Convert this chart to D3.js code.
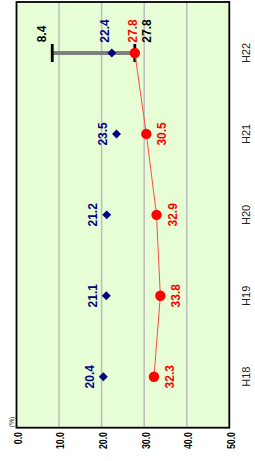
<!DOCTYPE html>
<html>
<head>
	<meta charset="utf-8">
	<title>H18-H22 chart</title>
	<style type="text/css">
	body{
		margin:0;
		background:#fff;
	}
	svg text{
		font-family:"Liberation Sans", Arial, sans-serif;
	}
	</style>
	<script type="text/javascript" src="https://cdn.jsdelivr.net/npm/d3@7"></script>
</head>
<body>
<script type="text/javascript">
	var width = 255;
	var height = 461;

	// data
	var categories = ["H18", "H19", "H20", "H21", "H22"];
	var redValues  = [32.3, 33.8, 32.9, 30.5, 27.8];
	var blueValues = [20.4, 21.1, 21.2, 23.5, 22.4];
	var rangeCategory = "H22";
	var rangeValues = [8.4, 27.8];
	var tickValues = [0, 10, 20, 30, 40, 50];

	var plot = {left:16.5, right:229.3, top:2, bottom:427.7};

	var svg = d3.select("body")
				.append("svg")
				.attr("width", width)
				.attr("height", height);

	// value axis runs horizontally, categories vertically (H22 on top)
	var x = d3.scaleLinear()
			.domain([0, 50])
			.range([plot.left, plot.right]);

	var y = d3.scalePoint()
			.domain(categories.slice().reverse())
			.range([plot.top, plot.bottom])
			.padding(0.63);

	var format = d3.format(".1f");

	// plot background
	svg.append("rect")
		.attr("x", plot.left)
		.attr("y", plot.top)
		.attr("width", plot.right - plot.left)
		.attr("height", plot.bottom - plot.top)
		.style("fill", "#e6fdd6");

	// grid
	svg.append("g")
		.selectAll("line")
		.data(tickValues.slice(1, -1))
		.enter()
		.append("line")
		.attr("x1", function(d){return x(d);})
		.attr("x2", function(d){return x(d);})
		.attr("y1", plot.top)
		.attr("y2", plot.bottom)
		.style("stroke", "#bdbdbd")
		.style("stroke-width", 1.5);

	// border
	svg.append("rect")
		.attr("x", plot.left)
		.attr("y", plot.top)
		.attr("width", plot.right - plot.left)
		.attr("height", plot.bottom - plot.top)
		.style("fill", "none")
		.style("stroke", "#000")
		.style("stroke-width", 1.8);

	// value tick labels (rotated, narrow)
	svg.append("g")
		.selectAll("text")
		.data(tickValues)
		.enter()
		.append("text")
		.attr("transform", function(d){return "translate(" + (x(d) + 1.5) + ",432) rotate(-90) scale(0.8,1)";})
		.attr("text-anchor", "end")
		.attr("dominant-baseline", "central")
		.style("font-size", "11px")
		.style("font-weight", "bold")
		.style("fill", "#000")
		.text(function(d){return format(d);});

	svg.append("text")
		.attr("transform", "translate(11,422) rotate(-90)")
		.attr("text-anchor", "middle")
		.attr("dominant-baseline", "central")
		.style("font-size", "7px")
		.style("fill", "#333")
		.text("(%)");

	// category labels
	svg.append("g")
		.selectAll("text")
		.data(categories)
		.enter()
		.append("text")
		.attr("transform", function(d){return "translate(246," + y(d) + ") rotate(-90)";})
		.attr("text-anchor", "middle")
		.attr("dominant-baseline", "central")
		.style("font-size", "11px")
		.style("fill", "#222")
		.text(function(d){return d;});

	// range bar
	var ry = y(rangeCategory);
	svg.append("line")
		.attr("x1", x(rangeValues[0]))
		.attr("x2", x(rangeValues[1]))
		.attr("y1", ry)
		.attr("y2", ry)
		.style("stroke", "#808080")
		.style("stroke-width", 4);

	svg.append("g")
		.selectAll("line")
		.data(rangeValues)
		.enter()
		.append("line")
		.attr("x1", function(d){return x(d);})
		.attr("x2", function(d){return x(d);})
		.attr("y1", ry - 9)
		.attr("y2", ry + 9)
		.style("stroke", "#000")
		.style("stroke-width", 2.8);

	// red line
	var line = d3.line()
			.x(function(d){return x(d);})
			.y(function(d, i){return y(categories[i]);});

	svg.append("path")
		.datum(redValues)
		.attr("d", line)
		.style("fill", "none")
		.style("stroke", "#ff4a4a")
		.style("stroke-width", 1);

	// blue diamonds
	svg.append("g")
		.selectAll("path")
		.data(blueValues)
		.enter()
		.append("path")
		.attr("d", d3.symbol().type(d3.symbolSquare).size(40))
		.attr("transform", function(d, i){return "translate(" + x(d) + "," + y(categories[i]) + ") rotate(45)";})
		.style("fill", "#000080");

	// red circles
	svg.append("g")
		.selectAll("circle")
		.data(redValues)
		.enter()
		.append("circle")
		.attr("cx", function(d){return x(d);})
		.attr("cy", function(d, i){return y(categories[i]);})
		.attr("r", 5.2)
		.style("fill", "#ff0000");

	// labels
	function label(tx, ty, str, color){
		svg.append("text")
			.attr("transform", "translate(" + tx + "," + ty + ") rotate(-90)")
			.attr("text-anchor", "middle")
			.attr("dominant-baseline", "central")
			.style("font-size", "12px")
			.style("font-weight", "bold")
			.style("fill", color)
			.text(str);
	}

	categories.forEach(function(c, i){
		var py = y(c);
		if(c == rangeCategory){
			// crowded row: labels sit above the points
			label(x(blueValues[i]) - 6.5, py - 22, format(blueValues[i]), "#000080");
			label(x(redValues[i]) - 1.5, py - 22, format(redValues[i]), "#ff0000");
			label(x(rangeValues[1]) + 12, py - 22, format(rangeValues[1]), "#000");
			label(x(rangeValues[0]) - 10, py - 19, format(rangeValues[0]), "#000");
		}else{
			label(x(blueValues[i]) - 13.5, py, format(blueValues[i]), "#000080");
			label(x(redValues[i]) + 16, py, format(redValues[i]), "#ff0000");
		}
	});
</script>
</body>
</html>
